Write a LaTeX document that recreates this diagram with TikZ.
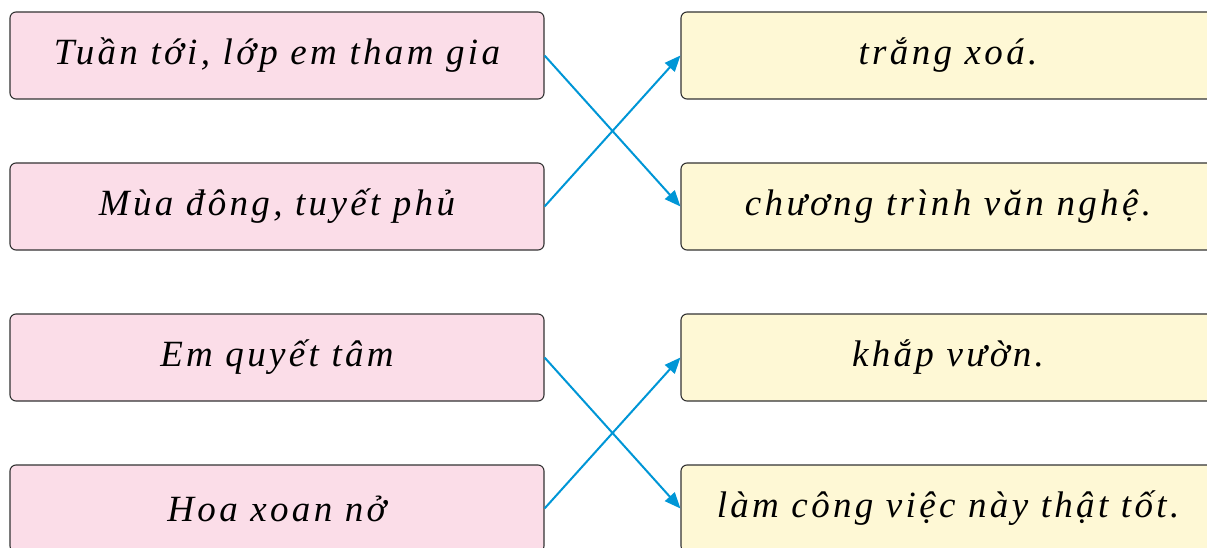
\documentclass[tikz,border=0pt]{standalone}
\usepackage{fontspec}
\setmainfont{Liberation Serif}
\usetikzlibrary{arrows.meta}
\definecolor{boxpink}{HTML}{FBDDE8}
\definecolor{boxyellow}{HTML}{FEF8D5}
\definecolor{boxline}{HTML}{333333}
\definecolor{linkblue}{HTML}{0096D6}
\begin{document}
\begin{tikzpicture}[x=1pt,y=-1pt,
	box/.style={draw=boxline, line width=1.1pt, rounded corners=6pt, minimum width=534pt, minimum height=87pt,
		inner sep=0pt, font=\fontsize{37}{40}\selectfont\itshape\addfontfeatures{LetterSpace=9}},
	leftbox/.style={box, fill=boxpink},
	rightbox/.style={box, fill=boxyellow},
	link/.style={draw=linkblue, line width=2pt, -{Triangle[length=16pt,width=13pt]}}]
\useasboundingbox (0,0) rectangle (1207,548);
\clip (0,0) rectangle (1207,548);

% left column
\node[leftbox] (l1) at (277,55.5) {Tuần tới, lớp em tham gia};
\node[leftbox] (l2) at (277,206.5) {Mùa đông, tuyết phủ};
\node[leftbox] (l3) at (277,357.5) {Em quyết tâm};
\node[leftbox] (l4) at (277,508.5) {Hoa xoan nở};

% right column
\node[rightbox] (r1) at (948,55.5) {trắng xoá.};
\node[rightbox] (r2) at (948,206.5) {chương trình văn nghệ.};
\node[rightbox] (r3) at (948,357.5) {khắp vườn.};
\node[rightbox] (r4) at (948,508.5) {làm công việc này thật tốt.};

% links
\draw[link] (l1.east) -- (r2.west);
\draw[link] (l2.east) -- (r1.west);
\draw[link] (l3.east) -- (r4.west);
\draw[link] (l4.east) -- (r3.west);
\end{tikzpicture}
\end{document}
